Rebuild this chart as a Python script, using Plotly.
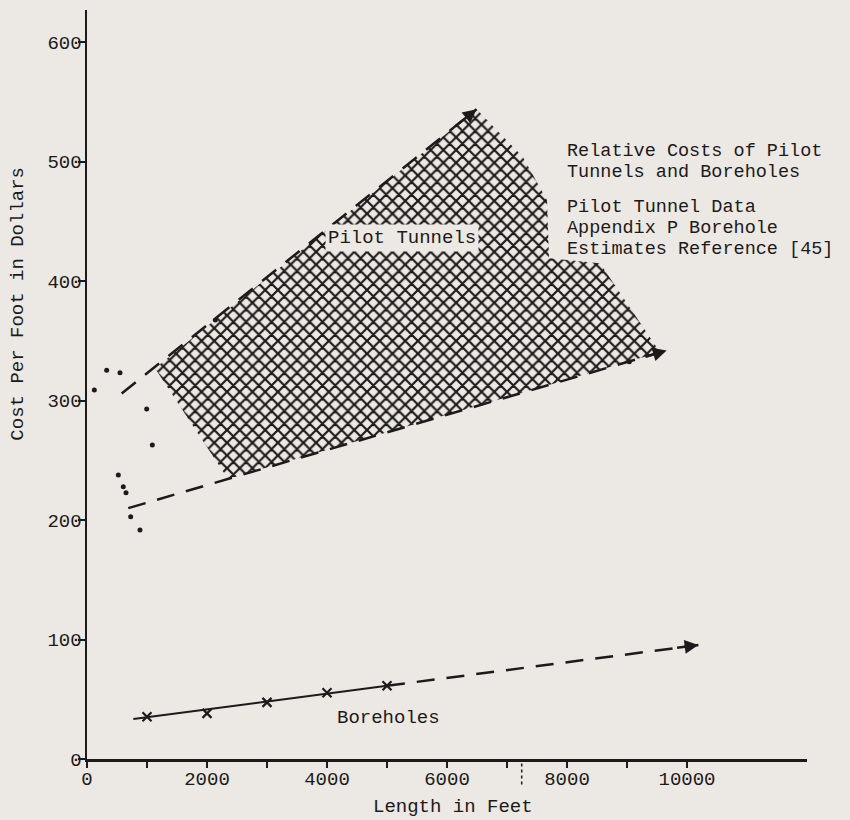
import plotly.graph_objects as go

# ---- data ----
x_tick_vals = [0, 1000, 2000, 3000, 4000, 5000, 6000, 7000, 8000, 9000, 10000]
x_tick_text = ["0", "", "2000", "", "4000", "", "6000", "", "8000", "", "10000"]
y_tick_vals = [0, 100, 200, 300, 400, 500, 600]
y_tick_text = ["0", "100", "200", "300", "400", "500", "600"]

borehole_x = [1000, 2000, 3000, 4000, 5000]
borehole_y = [35.4, 38.2, 47.4, 55.5, 61.3]
borehole_fit_x = [772, 5000]
borehole_fit_y = [33.5, 61.3]
borehole_proj_x = [5000, 10190]
borehole_proj_y = [61.3, 95.4]

pilot_upper_x = [578, 6494]
pilot_upper_y = [306, 544]
pilot_lower_x = [688, 9661]
pilot_lower_y = [210, 342]

pilot_area_x = [1133, 2350, 9550, 8550, 7700, 7667, 7267, 6494]
pilot_area_y = [327, 234.4, 340.4, 415.1, 419.2, 467.8, 503.8, 544]

pilot_dots_x = [122, 328, 550, 995, 1089, 522, 605, 650, 728, 883, 2139, 9039]
pilot_dots_y = [308.8, 325.5, 323.3, 292.9, 262.8, 237.7, 227.9, 222.8, 202.8, 191.6, 367.4, 332.5]

info_lines = ["Relative Costs of Pilot", "Tunnels and Boreholes",
              "Pilot Tunnel Data", "Appendix P Borehole", "Estimates Reference [45]"]

BG = "#ECE8E3"
INK = "#1c1a1a"
FONT = "Liberation Mono"
FS = 19

fig = go.Figure()

# hatched pilot tunnel region
fig.add_trace(go.Scatter(
    x=pilot_area_x + pilot_area_x[:1], y=pilot_area_y + pilot_area_y[:1],
    mode="lines", fill="toself", line=dict(width=0, color=INK),
    fillcolor="rgba(0,0,0,0)",
    fillpattern=dict(shape="x", size=9, solidity=0.42, fgcolor=INK, bgcolor=BG, fillmode="replace"),
    hoverinfo="skip", showlegend=False))

dash = "18px,12px"
for xs, ys in [(pilot_upper_x, pilot_upper_y), (pilot_lower_x, pilot_lower_y),
               (borehole_proj_x, borehole_proj_y)]:
    fig.add_trace(go.Scatter(x=xs, y=ys, mode="lines",
                             line=dict(color=INK, width=2.5, dash=dash),
                             hoverinfo="skip", showlegend=False))

fig.add_trace(go.Scatter(x=borehole_fit_x, y=borehole_fit_y, mode="lines",
                         line=dict(color=INK, width=2), showlegend=False))
fig.add_trace(go.Scatter(x=borehole_x, y=borehole_y, mode="markers",
                         marker=dict(symbol="x-thin-open", size=9, color=INK,
                                     line=dict(width=2.2, color=INK)),
                         showlegend=False))
fig.add_trace(go.Scatter(x=pilot_dots_x, y=pilot_dots_y, mode="markers",
                         marker=dict(symbol="circle", size=5, color=INK),
                         showlegend=False))

annotations = []
# arrowheads at the end of the dashed lines
for xs, ys in [(pilot_upper_x, pilot_upper_y), (pilot_lower_x, pilot_lower_y),
               (borehole_proj_x, borehole_proj_y)]:
    f = 380 / (xs[1] - xs[0])
    tx = xs[1] - f * (xs[1] - xs[0])
    ty = ys[1] - f * (ys[1] - ys[0])
    annotations.append(dict(x=xs[1], y=ys[1], ax=tx, ay=ty, axref="x", ayref="y",
                            xref="x", yref="y", text="", showarrow=True,
                            arrowhead=2, arrowsize=1.1, arrowwidth=2.5, arrowcolor=INK))

annotations.append(dict(x=5258, y=436, xref="x", yref="y", text="Pilot Tunnels",
                        xanchor="center", yanchor="middle",
                        showarrow=False, font=dict(family=FONT, size=FS, color=INK),
                        bgcolor=BG, borderpad=2))
annotations.append(dict(x=5025, y=34.1, xref="x", yref="y", text="Boreholes",
                        xanchor="center", yanchor="middle",
                        showarrow=False, font=dict(family=FONT, size=FS, color=INK)))

# text block at upper right (pixel centres converted to data units)
info_px = [151.7, 172.7, 207.7, 228.7, 249.7]
for t, py in zip(info_lines, info_px):
    annotations.append(dict(x=7967, y=(759 - py) / 1.195, xref="x", yref="y", text=t,
                            xanchor="left", yanchor="middle", showarrow=False,
                            font=dict(family=FONT, size=18.5, color=INK)))

annotations.append(dict(x=0.508, y=-0.064, xref="paper", yref="paper", text="Length in Feet",
                        xanchor="center", yanchor="middle",
                        showarrow=False, font=dict(family=FONT, size=FS, color=INK)))
annotations.append(dict(x=-0.0958, y=0.608, xref="paper", yref="paper",
                        text="Cost Per Foot in Dollars", textangle=-90,
                        xanchor="center", yanchor="middle",
                        showarrow=False, font=dict(family=FONT, size=FS, color=INK)))

fig.update_layout(
    width=850, height=820,
    margin=dict(l=87, r=43, t=10, b=61),
    paper_bgcolor=BG, plot_bgcolor=BG,
    font=dict(family=FONT, size=FS, color=INK),
    showlegend=False,
    annotations=annotations,
    shapes=[dict(type="line", xref="paper", yref="paper",
                 x0=(521.7 - 87) / 720, x1=(521.7 - 87) / 720, y0=-0.006, y1=-0.038,
                 line=dict(color=INK, width=1.5, dash="dot"))],
)
fig.update_xaxes(range=[0, 12000], showgrid=False, zeroline=False,
                 showline=True, linecolor=INK, linewidth=2.5,
                 tickmode="array", tickvals=x_tick_vals, ticktext=x_tick_text,
                 ticks="outside", ticklen=6, tickwidth=2, tickcolor=INK,
                 ticklabelstandoff=-5,
                 tickfont=dict(family=FONT, size=FS, color=INK))
fig.update_yaxes(range=[0, 627], showgrid=False, zeroline=False,
                 showline=True, linecolor=INK, linewidth=2.5,
                 tickmode="array", tickvals=y_tick_vals, ticktext=y_tick_text,
                 ticks="outside", ticklen=7, tickwidth=2, tickcolor=INK,
                 ticklabelstandoff=-8,
                 tickfont=dict(family=FONT, size=FS, color=INK))

fig.write_html("out.html",
               config={"displayModeBar": False, "staticPlot": True},
               post_script="document.body.style.margin='0';document.body.style.overflow='hidden';"
                           "document.body.style.background='" + BG + "';")
